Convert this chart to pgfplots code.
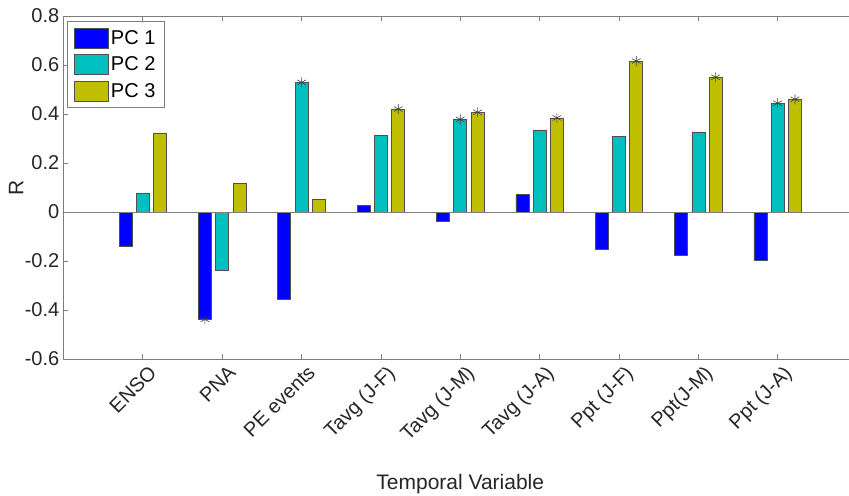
\documentclass[border=0pt]{standalone}
\usepackage{fontspec}
\setmainfont{Liberation Sans}
\usepackage{pgfplots}
\pgfplotsset{compat=1.18}
\definecolor{pcone}{RGB}{0,0,255}
\definecolor{pctwo}{RGB}{0,191,191}
\definecolor{pcthree}{RGB}{191,191,0}
\definecolor{axgray}{RGB}{125,125,125}
\definecolor{edgegray}{RGB}{80,80,80}
\begin{document}
\begin{tikzpicture}
\begin{axis}[
  at={(0,0)}, anchor=south west,
  scale only axis, width=793.5bp, height=343bp,
  xmin=0, xmax=10, ymin=-0.6, ymax=0.8,
  xtick={1,2,3,4,5,6,7,8,9},
  xticklabels={ENSO,PNA,PE events,Tavg (J-F),Tavg (J-M),Tavg (J-A),Ppt (J-F),Ppt(J-M),Ppt (J-A)},
  ytick={-0.6,-0.4,-0.2,0,0.2,0.4,0.6,0.8},
  yticklabels={-0.6,-0.4,-0.2,0,0.2,0.4,0.6,0.8},
  tick align=inside, major tick length=5bp,
  axis line style={axgray, line width=0.8bp},
  every tick/.style={axgray, line width=0.8bp},
  tick label style={font=\fontsize{20bp}{24bp}\selectfont, text=black!85},
  yticklabel style={inner sep=1bp, xshift=-3bp},
  xticklabel style={rotate=45, anchor=north east, inner sep=1bp, xshift=1bp, yshift=-6bp},
  xlabel={Temporal Variable}, ylabel={R},
  label style={font=\fontsize{21bp}{25bp}\selectfont, text=black!85},
  xlabel style={yshift=-25bp},
  ylabel style={yshift=-3bp},
  legend style={at={(0.0044,0.985)}, anchor=north west, draw=axgray, line width=0.8bp,
    font=\fontsize{20bp}{24bp}\selectfont, row sep=6bp, inner xsep=7bp, inner ysep=6bp,
    nodes={inner ysep=2.5bp, inner xsep=2bp}, cells={anchor=west}},
  legend cell align=left,
  legend image code/.code={\draw[#1, line width=0.6bp] (0bp,-10bp) rectangle (34bp,10bp);},
]
\addplot[ybar, bar width=13bp, bar shift=-17.3bp, fill=pcone, draw=edgegray, line width=0.6bp]
  coordinates {(1,-0.139) (2,-0.438) (3,-0.358) (4,0.026) (5,-0.037) (6,0.071) (7,-0.154) (8,-0.176) (9,-0.197)};
\addlegendentry{PC 1}
\addplot[ybar, bar width=13bp, bar shift=0bp, fill=pctwo, draw=edgegray, line width=0.6bp]
  coordinates {(1,0.076) (2,-0.237) (3,0.529) (4,0.313) (5,0.378) (6,0.335) (7,0.310) (8,0.327) (9,0.444)};
\addlegendentry{PC 2}
\addplot[ybar, bar width=13bp, bar shift=17.3bp, fill=pcthree, draw=edgegray, line width=0.6bp]
  coordinates {(1,0.322) (2,0.117) (3,0.052) (4,0.420) (5,0.407) (6,0.384) (7,0.616) (8,0.550) (9,0.460)};
\addlegendentry{PC 3}
\addplot[axgray, line width=0.8bp, forget plot] coordinates {(0,0) (10,0)};
\addplot[only marks, mark=asterisk, mark size=5bp, black!75, line width=0.6bp, forget plot]
  coordinates {(1.782,-0.438) (3,0.529) (4.218,0.420) (5,0.378) (5.218,0.407) (6.218,0.384) (7.218,0.616) (8.218,0.550) (9,0.444) (9.218,0.460)};
\end{axis}
\pgfresetboundingbox
\path[use as bounding box] (-63.5bp,-137bp) rectangle (785.5bp,359bp);
\end{tikzpicture}
\end{document}
